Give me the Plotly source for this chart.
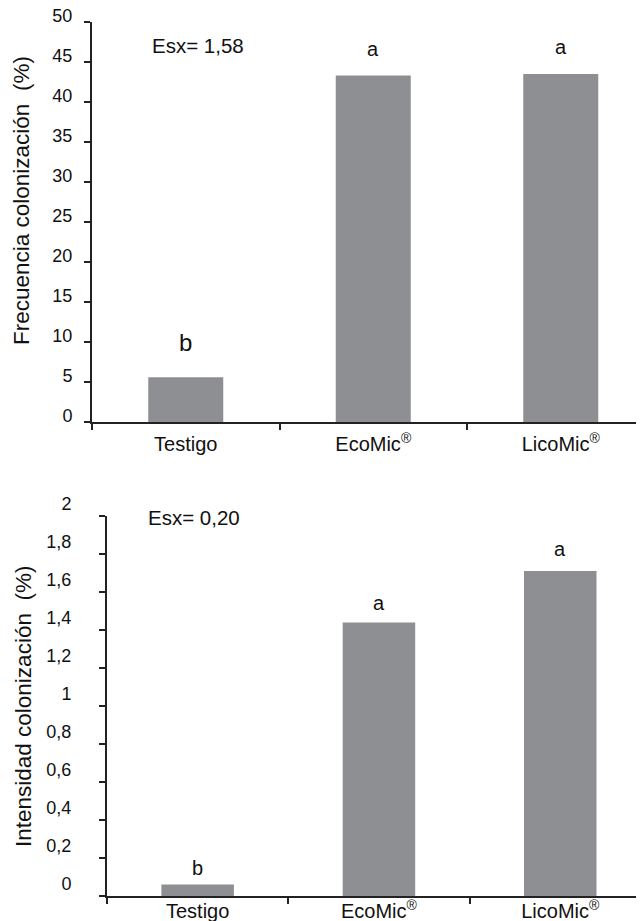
import plotly.graph_objects as go

# ---- data ----
categories = ["Testigo", "EcoMic<sup>®</sup>", "LicoMic<sup>®</sup>"]
frecuencia = [5.6, 43.3, 43.5]
intensidad = [0.06, 1.44, 1.71]
letters_frec = ["b", "a", "a"]
letters_int = ["b", "a", "a"]
esx_frec = "Esx= 1,58"
esx_int = "Esx= 0,20"
frec_ticks = [0, 5, 10, 15, 20, 25, 30, 35, 40, 45, 50]
frec_ticktext = ["0", "5", "10", "15", "20", "25", "30", "35", "40", "45", "50"]
int_ticks = [0, 0.2, 0.4, 0.6, 0.8, 1.0, 1.2, 1.4, 1.6, 1.8, 2.0]
int_ticktext = ["0", "0,2", "0,4", "0,6", "0,8", "1", "1,2", "1,4", "1,6", "1,8", "2"]

FONT = "Liberation Sans, Arial, sans-serif"
BAR = "#8e8f93"
LINE = "#222222"
TXT = "#111111"
W, H = 644, 921
OFF = 8  # page body margin


def px(v):
    return v - OFF


fig = go.Figure()
fig.add_trace(go.Bar(x=categories, y=frecuencia, width=0.4, marker=dict(color=BAR, line=dict(width=0)),
                     xaxis="x", yaxis="y", showlegend=False))
fig.add_trace(go.Bar(x=categories, y=intensidad, width=0.4, marker=dict(color=BAR, line=dict(width=0)),
                     xaxis="x2", yaxis="y2", showlegend=False))

axis_common = dict(showline=True, linecolor=LINE, linewidth=2, ticks="outside", ticklen=6,
                   tickwidth=2, tickcolor=LINE, showgrid=False, zeroline=False, automargin=False,
                   ticklabeloverflow="allow")
xfont = dict(family=FONT, size=20, color=TXT)
yfont = dict(family=FONT, size=18, color=TXT)

top_x0 = px(92) / W
top_y0, top_y1 = 1 - px(422) / H, 1 - px(22) / H
bot_x0 = px(107) / W
bot_y0, bot_y1 = 1 - px(896) / H, 1 - px(516) / H

fig.update_layout(
    width=W, height=H,
    margin=dict(l=0, r=0, t=0, b=0, pad=0),
    paper_bgcolor="white", plot_bgcolor="white",
    xaxis=dict(domain=[top_x0, 1], anchor="y", type="category", tickson="boundaries",
               range=[-0.5, -0.5 + (W - px(92)) / 187.5], tickfont=xfont, ticklabelstandoff=3,
               **axis_common),
    yaxis=dict(domain=[top_y0, top_y1], anchor="x", range=[0, 50], tickvals=frec_ticks,
               ticktext=frec_ticktext, ticklabelshift=-6, ticklabelstandoff=8, tickfont=yfont,
               **axis_common),
    xaxis2=dict(domain=[bot_x0, 1], anchor="y2", type="category", tickson="boundaries",
                range=[-0.5, -0.5 + (W - px(107)) / 181.3], tickfont=xfont, ticklabelstandoff=-4,
                **axis_common),
    yaxis2=dict(domain=[bot_y0, bot_y1], anchor="x2", range=[0, 2], tickvals=int_ticks,
                ticktext=int_ticktext, ticklabelshift=-12, ticklabelstandoff=24, tickfont=yfont,
                **axis_common),
)

ann = []
ann.append(dict(text="Frecuencia colonización  (%)", textangle=-90, xref="paper", yref="paper",
                x=px(22) / W, y=1 - px(201) / H, showarrow=False, xanchor="center", yanchor="middle",
                font=dict(family=FONT, size=22.5, color=TXT)))
ann.append(dict(text="Intensidad colonización  (%)", textangle=-90, xref="paper", yref="paper",
                x=px(23) / W, y=1 - px(707) / H, showarrow=False, xanchor="center", yanchor="middle",
                font=dict(family=FONT, size=22.5, color=TXT)))
ann.append(dict(text=esx_frec, xref="x domain", yref="y domain", x=(150 - 92) / (W + OFF - 92),
                y=(422 - 45) / 400, xanchor="left", yanchor="middle", showarrow=False,
                font=dict(family=FONT, size=20.5, color=TXT)))
ann.append(dict(text=esx_int, xref="x2 domain", yref="y2 domain", x=(146 - 107) / (W + OFF - 107),
                y=(896 - 517) / 380, xanchor="left", yanchor="middle", showarrow=False,
                font=dict(family=FONT, size=20.5, color=TXT)))
top_shift = [35, 27, 27]
top_size = [24, 20, 20]
for c, v, l, s, fs in zip(categories, frecuencia, letters_frec, top_shift, top_size):
    ann.append(dict(text=l, x=c, y=v, xref="x", yref="y", yshift=s, showarrow=False,
                    xanchor="center", yanchor="middle", font=dict(family=FONT, size=fs, color=TXT)))
bot_shift = [17, 19, 22]
for c, v, l, s in zip(categories, intensidad, letters_int, bot_shift):
    ann.append(dict(text=l, x=c, y=v, xref="x2", yref="y2", yshift=s, showarrow=False,
                    xanchor="center", yanchor="middle", font=dict(family=FONT, size=20, color=TXT)))

fig.update_layout(annotations=ann)
fig.write_html("out.html")
